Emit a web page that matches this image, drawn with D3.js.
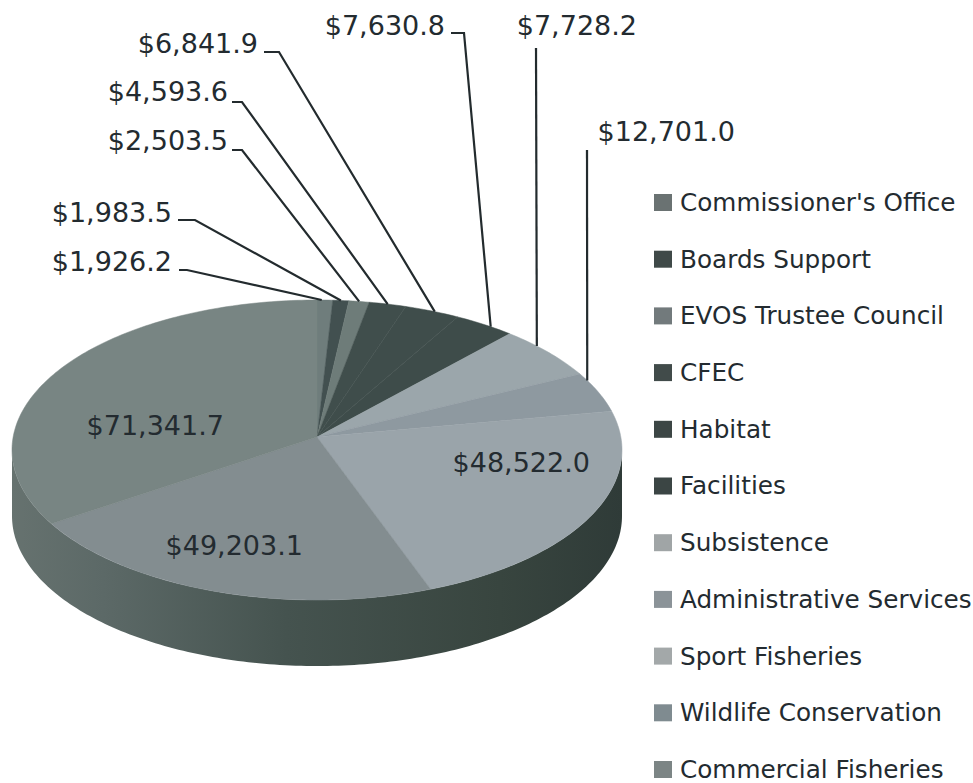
<!DOCTYPE html>
<html><head><meta charset="utf-8">
<script src="https://cdn.jsdelivr.net/npm/d3@7"></script>
<style>html,body{margin:0;background:#fff}svg{display:block}text{font-family:"DejaVu Sans",sans-serif;fill:#232b30}</style>
</head><body><script>
const categories=["Commissioner's Office","Boards Support","EVOS Trustee Council","CFEC","Habitat","Facilities","Subsistence","Administrative Services","Sport Fisheries","Wildlife Conservation","Commercial Fisheries"];
const values=[1926.2,1983.5,2503.5,4593.6,6841.9,7630.8,7728.2,12701.0,48522.0,49203.1,71341.7];
const colors=["#6f7d7c","#425050","#6e7c79","#404e4c","#3f4d4b","#3e4c4a","#9ba6ab","#8e99a0","#9aa4aa","#838d90","#788583"];
const legendColors=["#6a7272","#3f4948","#727a7c","#414b4a","#3c4645","#3b4544","#a0a5a6","#8b9398","#a3a8a9","#7f8b90","#7c8585"];
// where along its slice's rim each leader lands (0..1)
const leaderAttach=[0.3,0.5,0.5,0.5,0.55,0.62,0.34,0.18];
// label layout: [text right x, text middle y, elbow start x, elbow x, elbow y]
const labelLayout=[[172,261,179,187,270],[172,212,178,195,220],[228,140,232,242,150],[228,91,232,242,102],[258,43,264,279,52],[445,25,451,464,33],[637,25,536,536,48],[735,131,587,587,150]];
const insideLabels=[[8,590,462],[9,303,545],[10,224,425]];

const W=973,H=783,cx=317,cy=450,apexY=437,rx=305,ry=150,depth=66;
const svg=d3.select("body").append("svg").attr("width",W).attr("height",H);
const fmt=d3.format("$,.1f");
const pie=d3.pie().sort(null).value(d=>d);
const arcs=pie(values);
// perspective warp from data angle to drawn angle (degrees)
const warp=d3.scaleLinear().domain([0,42.7,55.6,76.9,158,360]).range([0,39.2,59.6,75,158,360]);
const toDeg=r=>r*180/Math.PI;
const ang=r=>warp(toDeg(r))*Math.PI/180;
const X=a=>cx+rx*Math.sin(a), Y=a=>cy-ry*Math.cos(a);
const line=d3.line();

// side wall
const grad=svg.append("defs").append("linearGradient").attr("id","side").attr("gradientUnits","userSpaceOnUse").attr("x1",12).attr("x2",622).attr("y1",0).attr("y2",0);
[[0,"#66726f"],[0.15,"#5c6967"],[0.45,"#45534f"],[0.8,"#38453f"],[1,"#2f3b38"]].forEach(s=>grad.append("stop").attr("offset",s[0]).attr("stop-color",s[1]));
const front=d3.range(90,270.5,1).map(d=>d*Math.PI/180);
const sidePts=front.map(a=>[X(a),Y(a)]).concat(front.slice().reverse().map(a=>[X(a),Y(a)+depth]));
svg.append("path").attr("d",line(sidePts)+"Z").attr("fill","url(#side)");

// top slices
svg.append("g").selectAll("path").data(arcs).join("path")
 .attr("d",d=>{
   const a0=ang(d.startAngle),a1=ang(d.endAngle),n=Math.max(2,Math.ceil((a1-a0)*60));
   const pts=[[cx,apexY]];
   d3.range(n+1).forEach(i=>{const a=a0+(a1-a0)*i/n;pts.push([X(a),Y(a)])});
   return line(pts)+"Z";})
 .attr("fill",(d,i)=>colors[i]).attr("stroke",(d,i)=>colors[i]).attr("stroke-width",0.5);

// leaders
const g=svg.append("g");
labelLayout.forEach((l,i)=>{
  const a0=ang(arcs[i].startAngle),a1=ang(arcs[i].endAngle),a=a0+(a1-a0)*leaderAttach[i];
  g.append("path").attr("d",line([[l[2],l[4]],[l[3],l[4]],[X(a),Y(a)]])).attr("fill","none").attr("stroke","#232b2e").attr("stroke-width",2.2);
  g.append("text").attr("x",l[0]).attr("y",l[1]).attr("dy","0.36em").attr("text-anchor","end").attr("font-size",27).text(fmt(values[i]));
});
insideLabels.forEach(l=>{
  g.append("text").attr("x",l[1]).attr("y",l[2]).attr("dy","0.36em").attr("text-anchor","end").attr("font-size",27).text(fmt(values[l[0]]));
});

// legend
const ly=d3.scalePoint().domain(categories).range([202,769]);
const lg=svg.append("g").selectAll("g").data(categories).join("g").attr("transform",d=>`translate(654,${ly(d)})`);
lg.append("rect").attr("x",0).attr("y",-8).attr("width",18).attr("height",17).attr("fill",(d,i)=>legendColors[i]);
lg.append("text").attr("x",26).attr("y",0).attr("dy","0.36em").attr("font-size",24.7).text(d=>d);
</script></body></html>
